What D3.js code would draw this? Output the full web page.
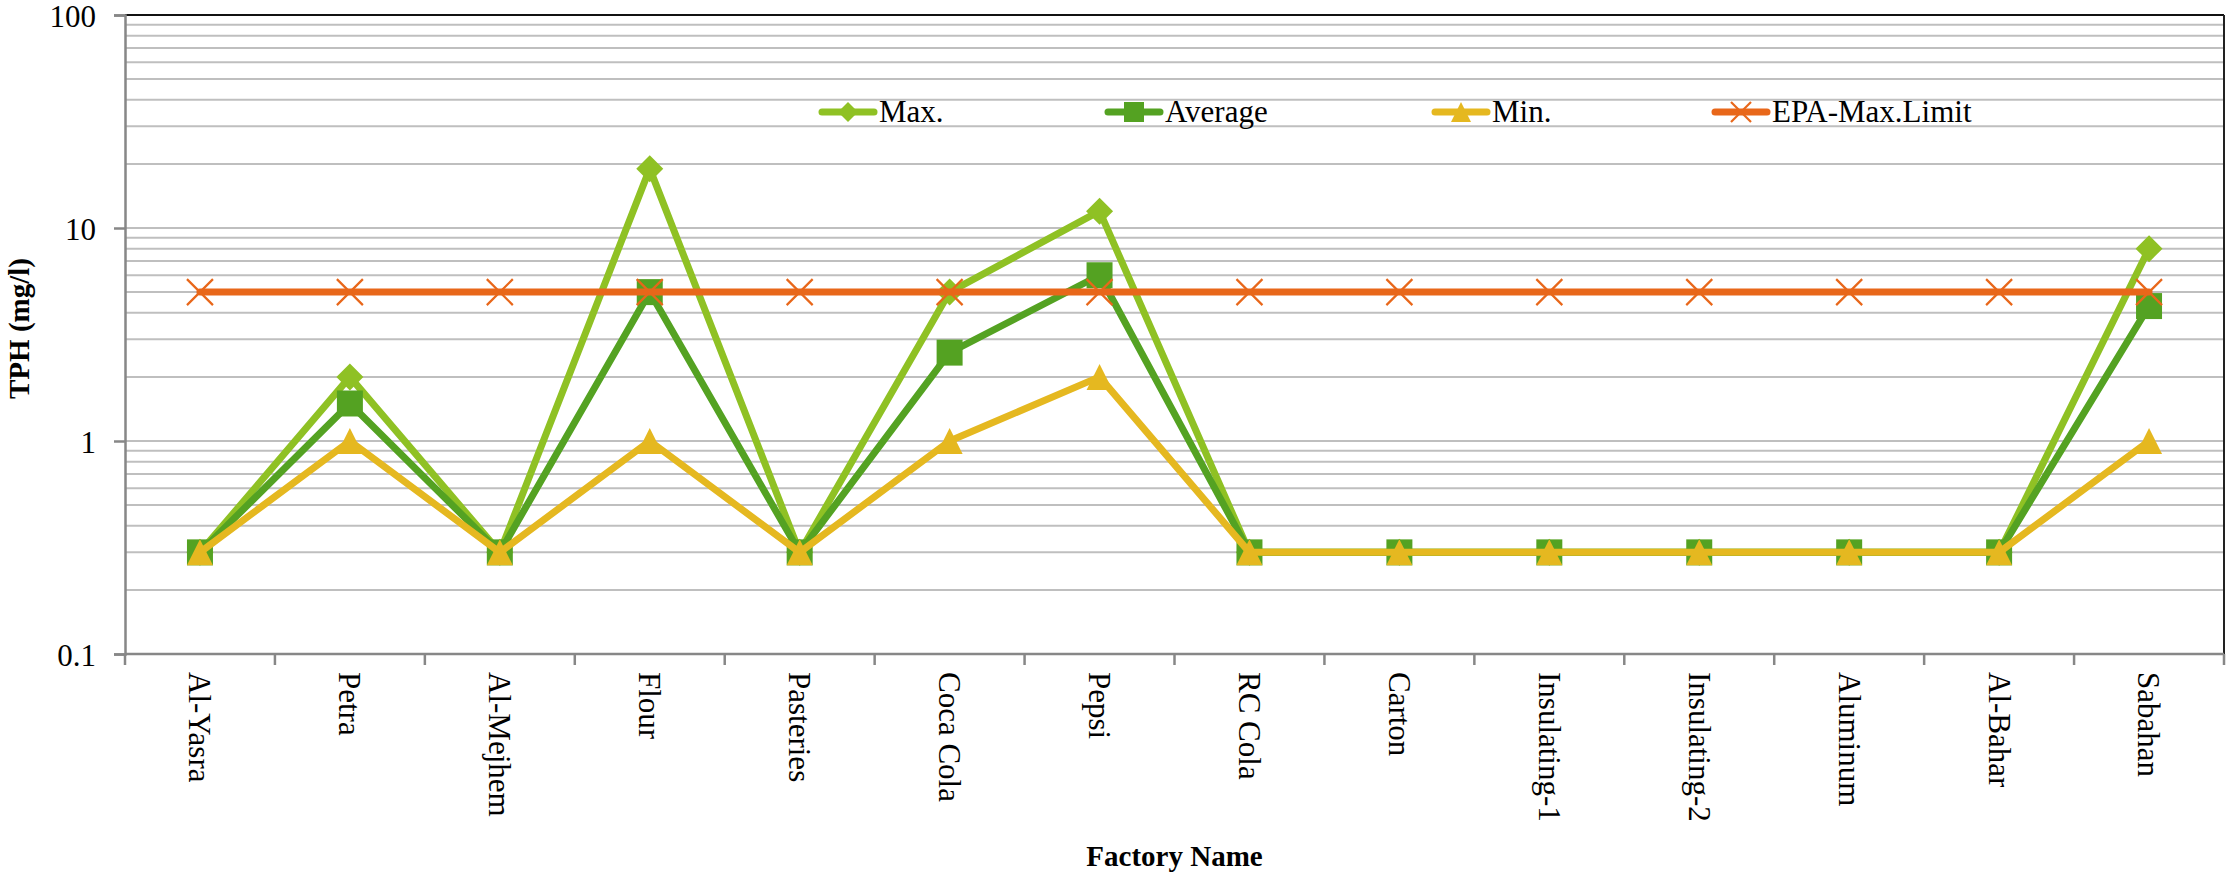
<!DOCTYPE html>
<html>
<head>
<meta charset="utf-8">
<script src="https://cdn.jsdelivr.net/npm/d3@7"></script>
<style>
  html, body { margin: 0; padding: 0; background: #fff; }
  svg { display: block; font-family: "Liberation Serif", "Times New Roman", serif; }
</style>
</head>
<body>
<svg id="chart" width="2228" height="879"></svg>
<script>
// Factories sampled and TPH concentrations (mg/l)
const factories = ["Al-Yasra", "Petra", "Al-Mejhem", "Flour", "Pasteries", "Coca Cola", "Pepsi",
  "RC Cola", "Carton", "Insulating-1", "Insulating-2", "Aluminum", "Al-Bahar", "Sabahan"];
const maxValues = [0.3, 2, 0.3, 19, 0.3, 5, 12, 0.3, 0.3, 0.3, 0.3, 0.3, 0.3, 8];
const avgValues = [0.3, 1.5, 0.3, 5, 0.3, 2.6, 6, 0.3, 0.3, 0.3, 0.3, 0.3, 0.3, 4.3];
const minValues = [0.3, 1, 0.3, 1, 0.3, 1, 2, 0.3, 0.3, 0.3, 0.3, 0.3, 0.3, 1];
const epaLimit  = [5, 5, 5, 5, 5, 5, 5, 5, 5, 5, 5, 5, 5, 5];
const yTickValues = [0.1, 1, 10, 100];
const yTickLabels = ["0.1", "1", "10", "100"];
const seriesNames = ["Max.", "Average", "Min.", "EPA-Max.Limit"];

const series = [
  { name: seriesNames[0], values: maxValues, color: "#8fc124", marker: "diamond" },
  { name: seriesNames[1], values: avgValues, color: "#54a222", marker: "square" },
  { name: seriesNames[2], values: minValues, color: "#e5b820", marker: "triangle" },
  { name: seriesNames[3], values: epaLimit,  color: "#e8671a", marker: "cross" }
];

const svg = d3.select("#chart");
const plot = { left: 125, right: 2224, top: 15, bottom: 654 };

const x = d3.scaleBand().domain(factories).range([plot.left, plot.right]);
const cx = d => x(d) + x.bandwidth() / 2;
const y = d3.scaleLog().domain([0.1, 100]).range([plot.bottom, plot.top]);

// Marker outlines centred on the origin
function markerPath(type, s) {
  const h = s / 2;
  if (type === "diamond") return `M0,${-h}L${h},0L0,${h}L${-h},0Z`;
  if (type === "square") return `M${-h},${-h}H${h}V${h}H${-h}Z`;
  if (type === "triangle") return `M0,${-h}L${h},${h}L${-h},${h}Z`;
  return `M${-h},${-h}L${h},${h}M${h},${-h}L${-h},${h}`;
}
function drawMarker(g, type, color, s) {
  if (type === "cross") {
    g.append("path").attr("d", markerPath(type, s))
      .attr("fill", "none").attr("stroke", color).attr("stroke-width", 2.2);
  } else {
    g.append("path").attr("d", markerPath(type, s)).attr("fill", color);
  }
}

// Horizontal grid: every 1..9 step of each decade
const gridVals = [];
[0.1, 1, 10].forEach(dec => { for (let k = 1; k <= 9; k++) gridVals.push(+(k * dec).toPrecision(3)); });
svg.append("g").selectAll("line").data(gridVals.filter(v => v > 0.1)).join("line")
  .attr("x1", plot.left).attr("x2", plot.right)
  .attr("y1", d => y(d)).attr("y2", d => y(d))
  .attr("stroke", "#bfbfbf").attr("stroke-width", 2);

// Frame: top and right edges
svg.append("line").attr("x1", plot.left).attr("x2", plot.right)
  .attr("y1", y(100)).attr("y2", y(100)).attr("stroke", "#111").attr("stroke-width", 2);
svg.append("line").attr("x1", plot.right).attr("x2", plot.right)
  .attr("y1", plot.top).attr("y2", plot.bottom).attr("stroke", "#222").attr("stroke-width", 2);

// Y axis
const yAxis = d3.axisLeft(y).tickValues(yTickValues)
  .tickFormat((d, i) => yTickLabels[i]).tickSize(11).tickPadding(18);
const gy = svg.append("g").attr("transform", `translate(${plot.left},0)`).call(yAxis);
gy.select(".domain").attr("stroke", "#878787").attr("stroke-width", 2.5);
gy.selectAll(".tick line").attr("stroke", "#878787").attr("stroke-width", 2.5);
gy.selectAll(".tick text").attr("font-family", "Liberation Serif").attr("font-size", 31)
  .attr("fill", "#000").attr("dy", "0.36em");

// X axis: tick marks on category boundaries, rotated labels at centres
const gx = svg.append("g");
const boundaries = factories.map(f => x(f)).concat([plot.right]);
gx.append("line").attr("x1", plot.left).attr("x2", plot.right)
  .attr("y1", plot.bottom).attr("y2", plot.bottom)
  .attr("stroke", "#878787").attr("stroke-width", 2.5);
gx.selectAll("line.tick").data(boundaries).join("line").attr("class", "tick")
  .attr("x1", d => d).attr("x2", d => d)
  .attr("y1", plot.bottom).attr("y2", plot.bottom + 11)
  .attr("stroke", "#878787").attr("stroke-width", 2.5);
gx.selectAll("text").data(factories).join("text")
  .attr("transform", d => `translate(${cx(d)},${plot.bottom + 18}) rotate(90)`)
  .attr("text-anchor", "start").attr("dy", "0.34em")
  .attr("font-size", 31).attr("fill", "#000")
  .text(d => d);

// Axis titles
svg.append("text")
  .attr("transform", `translate(19,${(plot.top + plot.bottom) / 2 - 6}) rotate(-90)`)
  .attr("text-anchor", "middle").attr("dy", "0.35em")
  .attr("font-weight", "bold").attr("font-size", 29).text("TPH (mg/l)");
svg.append("text")
  .attr("x", (plot.left + plot.right) / 2).attr("y", 866)
  .attr("text-anchor", "middle").attr("font-weight", "bold").attr("font-size", 29)
  .text("Factory Name");

// Series lines and markers
const line = d3.line().x((d, i) => cx(factories[i])).y(d => y(d));
series.forEach(s => {
  const g = svg.append("g");
  g.append("path").datum(s.values).attr("d", line)
    .attr("fill", "none").attr("stroke", s.color).attr("stroke-width", 7)
    .attr("stroke-linejoin", "round").attr("stroke-linecap", "round");
  s.values.forEach((v, i) => {
    const m = g.append("g").attr("transform", `translate(${cx(factories[i])},${y(v)})`);
    drawMarker(m, s.marker, s.color, s.marker === "diamond" ? 27 : 26);
  });
});

// Legend
const legendX = [819, 1105, 1432, 1712];
const legendY = 112;
series.forEach((s, i) => {
  const g = svg.append("g").attr("transform", `translate(${legendX[i]},${legendY})`);
  g.append("line").attr("x1", 3).attr("x2", 55).attr("y1", 0).attr("y2", 0)
    .attr("stroke", s.color).attr("stroke-width", 7).attr("stroke-linecap", "round");
  const m = g.append("g").attr("transform", "translate(29,0)");
  drawMarker(m, s.marker, s.color, 20);
  g.append("text").attr("x", 60).attr("y", 10).attr("font-size", 31).attr("fill", "#000").text(s.name);
});
</script>
</body>
</html>
